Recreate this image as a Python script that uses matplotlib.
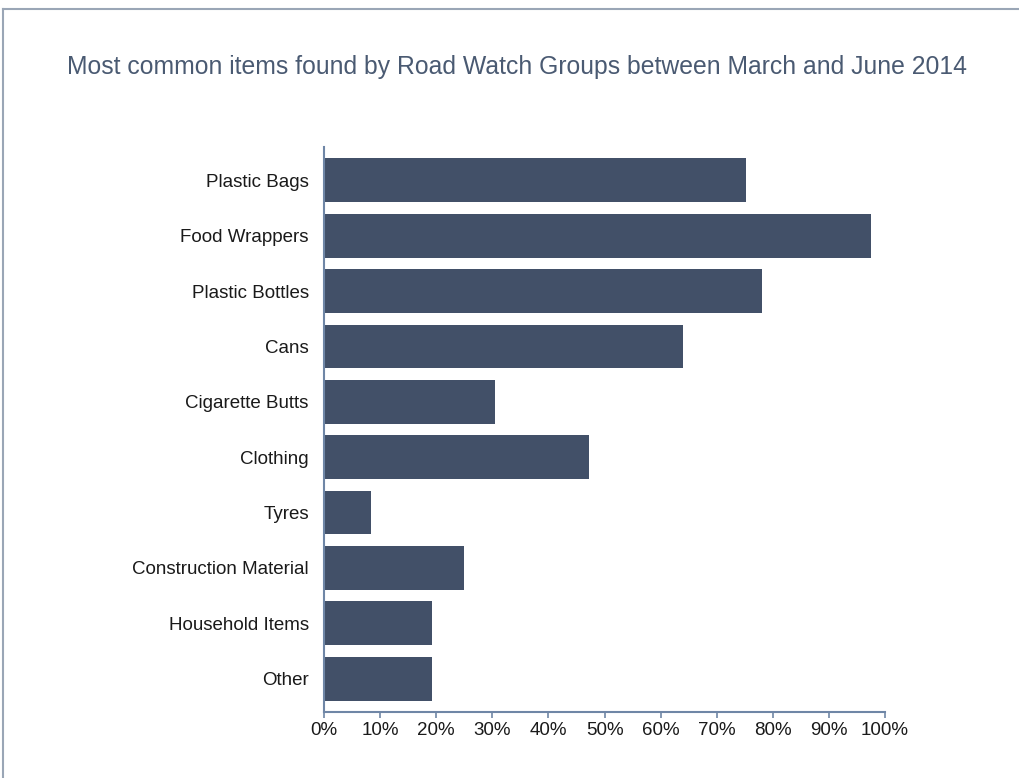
import matplotlib.pyplot as plt
from matplotlib.lines import Line2D
from matplotlib.ticker import PercentFormatter

# Dados (percentagem de grupos que encontraram o item)
categorias = ['Plastic Bags', 'Food Wrappers', 'Plastic Bottles', 'Cans',
              'Cigarette Butts', 'Clothing', 'Tyres', 'Construction Material',
              'Household Items', 'Other']
valores = [75.2, 97.5, 78.0, 64.0, 30.5, 47.2, 8.4, 25.0, 19.2, 19.2]
ticks_x = [0, 10, 20, 30, 40, 50, 60, 70, 80, 90, 100]

titulo = 'Most common items found by Road Watch Groups between March and June 2014'

cor_barra = '#425068'
cor_eixo = '#6f86a6'
cor_borda = '#9aa6b6'
cor_titulo = '#4a5a72'

plt.rcParams['font.family'] = ['Liberation Sans', 'DejaVu Sans']

fig = plt.figure(figsize=(10.19, 7.78), dpi=100)
ax = fig.add_axes([0.318, 0.085, 0.8685 - 0.318, 0.811 - 0.085])

pos = list(range(len(categorias)))
ax.barh(pos, valores, height=0.79, color=cor_barra)

ax.set_xlim(0, 100)
ax.set_ylim(len(categorias) - 0.4, -0.6)
ax.set_xticks(ticks_x)
ax.xaxis.set_major_formatter(PercentFormatter(decimals=0))
ax.set_yticks(pos)
ax.set_yticklabels(categorias)

for lado in ['top', 'right']:
    ax.spines[lado].set_visible(False)
for lado in ['left', 'bottom']:
    ax.spines[lado].set_color(cor_eixo)
    ax.spines[lado].set_linewidth(1.5)

ax.tick_params(axis='x', length=4, width=1.2, color=cor_eixo, labelsize=13.5,
               labelcolor='#1a1a1a', pad=3)
ax.tick_params(axis='y', length=0, labelsize=13.5, labelcolor='#1a1a1a', pad=11)

fig.text(0.507, 1 - 67 / 778, titulo, ha='center', va='center',
         fontsize=17.8, color=cor_titulo)

# borda do painel (só topo e esquerda)
fig.add_artist(Line2D([3 / 1019, 1], [1 - 9 / 778, 1 - 9 / 778],
                      transform=fig.transFigure, color=cor_borda, lw=1.5))
fig.add_artist(Line2D([3 / 1019, 3 / 1019], [0, 1 - 9 / 778],
                      transform=fig.transFigure, color=cor_borda, lw=1.5))

fig.savefig('out.png', dpi=100)
